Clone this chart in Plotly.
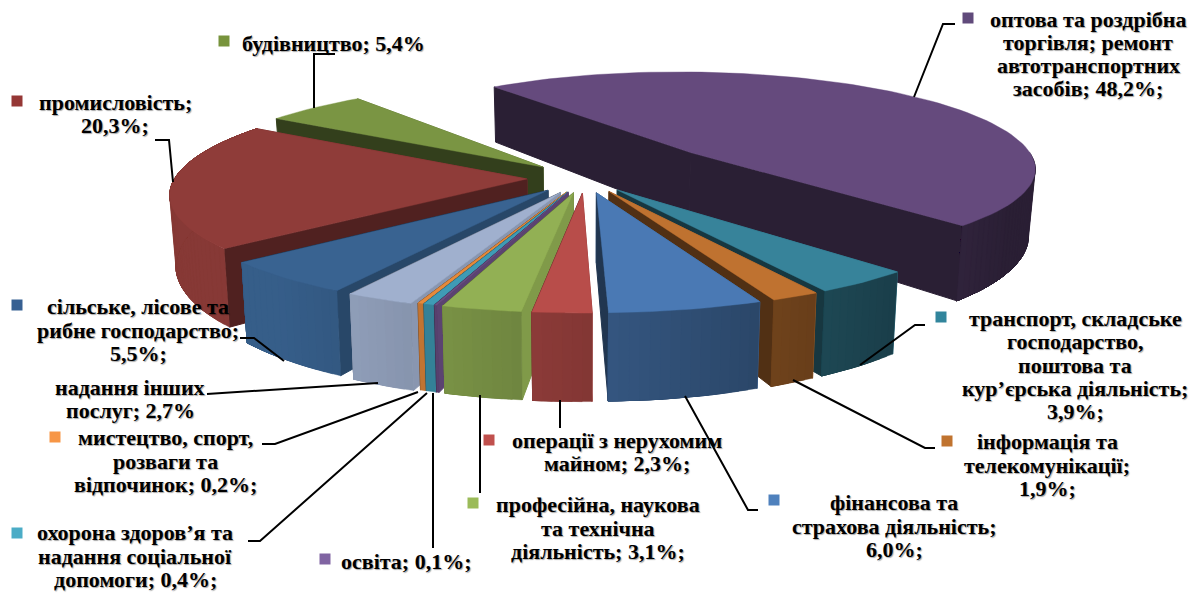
import numpy as np
import plotly.graph_objects as go

# ---- data ----
categories = ["оптова та роздрібна торгівля; ремонт автотранспортних засобів", "транспорт, складське господарство, поштова та кур’єрська діяльність",
              "інформація та телекомунікації", "фінансова та страхова діяльність", "операції з нерухомим майном",
              "професійна, наукова та технічна діяльність", "освіта", "охорона здоров’я та надання соціальної допомоги",
              "мистецтво, спорт, розваги та відпочинок", "надання інших послуг", "сільське, лісове та рибне господарство",
              "промисловість", "будівництво"]
values = [48.2, 3.9, 1.9, 6.0, 2.3, 3.1, 0.1, 0.4, 0.2, 2.7, 5.5, 20.3, 5.4]
top_colors = ["#654A7D", "#37839A", "#BF7230", "#4A79B4", "#B84D4A", "#92B054", "#6A4E84", "#3F9BB5",
              "#E58A3C", "#A0B0CE", "#396391", "#8F3C39", "#7A9543"]
explode = [0.41, 0.15, 0.15, 0.15, 0.15, 0.15, 0.15, 0.15, 0.15, 0.16, 0.16, 0.165, 0.165]
label_text = ["оптова та роздрібна<br>торгівля; ремонт<br>автотранспортних<br>засобів; 48,2%;",
              "транспорт, складське<br>господарство,<br>поштова та<br>кур’єрська діяльність;<br>3,9%;",
              "інформація та<br>телекомунікації;<br>1,9%;",
              "фінансова та<br>страхова діяльність;<br>6,0%;",
              "операції з нерухомим<br>майном; 2,3%;",
              "професійна, наукова<br>та технічна<br>діяльність; 3,1%;",
              "освіта; 0,1%;",
              "охорона здоров’я та<br>надання соціальної<br>допомоги; 0,4%;",
              "мистецтво, спорт,<br>розваги та<br>відпочинок; 0,2%;",
              "надання інших<br>послуг; 2,7%",
              "сільське, лісове та<br>рибне господарство;<br>5,5%;",
              "промисловість;<br>20,3%;",
              "будівництво; 5,4%"]
label_x = [1088, 1075, 1047, 894, 617, 598, 406, 135, 165, 130, 138, 115, 333]
label_y = [54, 365, 465, 526, 452, 528, 561, 556, 461, 399, 330, 114, 43]
key_colors = ["#604A7B", "#31859C", "#C0732F", "#4F81BD", "#C0504D", "#9BBB59", "#8064A2", "#4BACC6",
              "#F79646", None, "#376092", "#953735", "#77933C"]
key_x = [968, 941, 947, 774, 489, 473, 325, 17, 55, None, 17, 17, 224]
key_y = [18, 317, 441, 500, 440, 503, 559, 533, 437, None, 305, 101, 41]
leaders = [[(914, 97), (943, 24), (955, 24)], [(860, 365), (915, 325), (925, 325)], [(793, 380), (925, 448), (935, 448)],
           [(685, 396), (748, 510), (758, 510)], [(560, 400), (560, 428)], [(480, 395), (480, 493)],
           [(433, 393), (433, 548)], [(427, 393), (260, 541), (248, 541)], [(418, 392), (275, 444), (262, 444)],
           [(378, 383), (215, 394), (207, 394)], [(284, 361), (254, 338), (240, 338)], [(173, 182), (169, 140), (155, 140)],
           [(314, 108), (314, 54), (335, 54)]]

# ---- projection of the tilted pie ----
CX, CY, R, A, K, D = 585, 178, 352, 98.6, 0.14, 68
START = -37.4
LINE_STEP = 23.3
BAND = 1.5
NORM_ANGLE = [100, 114, 123, 143, 216, 243, 272]
NORM_SHADE = [.88, .85, .66, .55, .42, .42, .45]


def project(X, Y, low=False):
    s = 1 / (1 - K * Y)
    x = X * R * s
    y = CY + A * Y * s
    if low:
        return CX + x * 0.985, y + D * s ** 1.5
    return CX + x, y


def shade(color, f):
    rgb = [int(color[i:i + 2], 16) for i in (1, 3, 5)]
    return "#%02x%02x%02x" % tuple(int(min(255, c * f)) for c in rgb)


def direction(t):
    r = np.radians(t)
    return np.sin(r), -np.cos(r)


def poly(fig, pts, color, width=0.4):
    xs, ys = zip(*pts)
    fig.add_trace(go.Scatter(x=list(xs) + [xs[0]], y=list(ys) + [ys[0]], mode="lines", fill="toself",
                             fillcolor=color, line=dict(color=color, width=width), hoverinfo="skip", showlegend=False))


fig = go.Figure()
edges = START + np.cumsum([0] + values) * 3.6
slices = []
for i, v in enumerate(values):
    a0, a1 = edges[i], edges[i + 1]
    mid = (a0 + a1) / 2
    ex, ey = direction(mid)
    ax, ay = ex * explode[i], ey * explode[i]
    slices.append((ay + 0.6 * direction(mid)[1], i, a0, a1, ax, ay))

for _, i, a0, a1, ax, ay in sorted(slices):
    col = top_colors[i]
    # cut faces, the ones turned away from the viewer first
    faces = sorted(((a0, a0 - 90), (a1, a1 + 90)), key=lambda p: direction(p[1])[1])
    for t, n in faces:
        dx, dy = direction(t)
        f = float(np.interp(n % 360, NORM_ANGLE, NORM_SHADE))
        poly(fig, [project(ax, ay), project(ax + dx, ay + dy), project(ax + dx, ay + dy, True), project(ax, ay, True)], shade(col, f), 1)
    # outer wall: each band is painted from its angle to the slice end, so bands never leave a seam
    n = max(1, int(np.ceil((a1 - a0) / BAND)))
    ts = np.linspace(a0, a1, n + 1)
    for t0 in ts[:-1]:
        if direction(t0)[1] < 0 and direction(min(t0 + BAND, a1))[1] < 0:
            continue
        f = np.clip(0.72 - 0.35 * np.sin(np.radians(t0 + BAND / 2)), 0.42, 0.95)
        run = np.linspace(t0, a1, max(2, int((a1 - t0) / 2) + 2))
        upper = [project(ax + direction(t)[0], ay + direction(t)[1]) for t in run]
        lower = [project(ax + direction(t)[0], ay + direction(t)[1], True) for t in run[::-1]]
        poly(fig, upper + lower, shade(col, f))
    ts = np.linspace(a0, a1, max(2, int((a1 - a0) / 2) + 2))
    arc = [project(ax + direction(t)[0], ay + direction(t)[1]) for t in ts]
    poly(fig, [project(ax, ay)] + arc, col)

for line in leaders:
    xs, ys = zip(*line)
    fig.add_trace(go.Scatter(x=xs, y=ys, mode="lines", line=dict(color="black", width=2), hoverinfo="skip", showlegend=False))

kx = [x for x in key_x if x is not None]
ky = [y for y in key_y if y is not None]
kc = [c for c in key_colors if c is not None]
fig.add_trace(go.Scatter(x=kx, y=ky, mode="markers", marker=dict(symbol="square", size=11, color=kc, line=dict(width=0)),
                         hoverinfo="skip", showlegend=False))

for t, x, y in zip(label_text, label_x, label_y):
    rows = t.split("<br>")
    for j, row in enumerate(rows):
        fig.add_annotation(x=x, y=y + (j - (len(rows) - 1) / 2) * LINE_STEP, text=row, showarrow=False, align="center",
                           xanchor="center", yanchor="middle", borderpad=0,
                           font=dict(family="Liberation Serif", size=22, color="black", weight="bold",
                                     shadow="1px 1px 1px rgba(0,0,0,0.35)"))

fig.update_layout(width=1196, height=593, margin=dict(l=0, r=0, t=0, b=0), paper_bgcolor="white", plot_bgcolor="white",
                  xaxis=dict(range=[0, 1196], visible=False, fixedrange=True),
                  yaxis=dict(range=[593, 0], visible=False, fixedrange=True), showlegend=False)
fig.write_html("out.html", config={"displayModeBar": False},
               post_script="document.body.style.margin='0';document.body.style.overflow='hidden';")
